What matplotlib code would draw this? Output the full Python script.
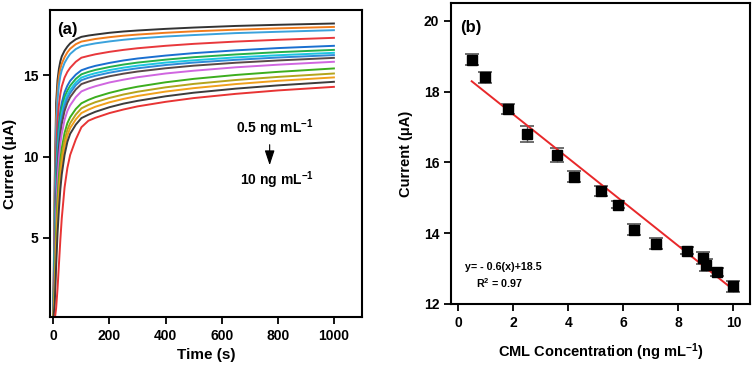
import matplotlib
matplotlib.use("Agg")
import matplotlib.pyplot as plt
import numpy as np

plt.rcParams['font.family'] = ['Liberation Sans', 'DejaVu Sans']
plt.rcParams['font.weight'] = 'bold'
plt.rcParams['mathtext.fontset'] = 'custom'
plt.rcParams['mathtext.rm'] = 'Liberation Sans:bold'
plt.rcParams['mathtext.bf'] = 'Liberation Sans:bold'
plt.rcParams['mathtext.it'] = 'Liberation Sans:bold'
plt.rcParams['mathtext.default'] = 'bf'

# (a) chronoamperometric curves (0.5 -> 10 ng/mL, top to bottom)
time_s = [0, 5, 10, 15, 20, 25, 30, 40, 50, 60, 80,
          100, 125, 150, 200, 250, 300, 400, 500, 650, 800, 1000]
curves = [
    [0.3, 8.5, 13.3, 14.7, 15.4, 15.85, 16.15, 16.5, 16.75, 16.95, 17.2,
     17.35, 17.43, 17.49, 17.60, 17.68, 17.74, 17.84, 17.92, 18.02, 18.09, 18.17],
    [0.3, 7.5, 12.4, 14.1, 14.95, 15.4, 15.7, 16.1, 16.4, 16.62, 16.9,
     17.06, 17.14, 17.22, 17.33, 17.42, 17.49, 17.60, 17.69, 17.79, 17.87, 17.96],
    [0.3, 6.5, 11.6, 13.5, 14.4, 14.95, 15.3, 15.75, 16.05, 16.3, 16.6,
     16.78, 16.87, 16.95, 17.07, 17.17, 17.25, 17.37, 17.46, 17.58, 17.66, 17.76],
    [0.2, 5.5, 10.3, 12.2, 13.2, 13.85, 14.3, 14.85, 15.2, 15.45, 15.82,
     16.07, 16.18, 16.28, 16.43, 16.55, 16.65, 16.80, 16.92, 17.06, 17.17, 17.29],
    [0.2, 4.8, 9.2, 11.0, 12.1, 12.8, 13.3, 13.95, 14.35, 14.65, 15.03,
     15.30, 15.45, 15.57, 15.75, 15.90, 16.02, 16.20, 16.35, 16.52, 16.66, 16.80],
    [0.2, 4.4, 8.7, 10.6, 11.7, 12.45, 12.95, 13.65, 14.05, 14.35, 14.77,
     15.05, 15.20, 15.32, 15.50, 15.65, 15.77, 15.95, 16.10, 16.27, 16.41, 16.55],
    [0.2, 4.0, 8.2, 10.2, 11.35, 12.1, 12.65, 13.35, 13.8, 14.1, 14.55,
     14.85, 15.00, 15.12, 15.31, 15.46, 15.58, 15.77, 15.91, 16.09, 16.22, 16.37],
    [0.2, 3.6, 7.7, 9.8, 11.0, 11.8, 12.35, 13.1, 13.58, 13.9, 14.38,
     14.69, 14.84, 14.96, 15.15, 15.30, 15.42, 15.62, 15.77, 15.94, 16.08, 16.23],
    [0.2, 3.3, 7.2, 9.3, 10.6, 11.4, 12.0, 12.8, 13.3, 13.65, 14.12,
     14.45, 14.60, 14.73, 14.93, 15.09, 15.22, 15.42, 15.58, 15.76, 15.90, 16.06],
    [0.1, 2.8, 6.5, 8.6, 9.9, 10.8, 11.4, 12.25, 12.8, 13.15, 13.65,
     14.00, 14.18, 14.32, 14.55, 14.72, 14.87, 15.10, 15.27, 15.48, 15.64, 15.82],
    [0.1, 2.2, 5.5, 7.5, 8.8, 9.8, 10.5, 11.45, 12.05, 12.42, 12.92,
     13.27, 13.48, 13.65, 13.91, 14.12, 14.29, 14.56, 14.77, 15.01, 15.20, 15.41],
    [0.1, 1.8, 4.8, 6.8, 8.2, 9.3, 10.0, 11.0, 11.65, 12.05, 12.58,
     12.96, 13.17, 13.34, 13.60, 13.81, 13.98, 14.25, 14.46, 14.70, 14.89, 15.10],
    [0.0, 1.4, 4.1, 6.1, 7.6, 8.7, 9.5, 10.6, 11.3, 11.75, 12.28,
     12.67, 12.88, 13.06, 13.33, 13.54, 13.72, 13.99, 14.20, 14.45, 14.65, 14.86],
    [0.0, 1.0, 3.3, 5.3, 6.8, 8.0, 8.9, 10.1, 10.9, 11.4, 11.96,
     12.36, 12.57, 12.75, 13.03, 13.25, 13.42, 13.70, 13.92, 14.17, 14.37, 14.59],
    [0.0, 0.0, 0.7, 1.9, 3.4, 4.9, 6.2, 8.1, 9.3, 10.1, 11.05,
     11.80, 12.20, 12.38, 12.67, 12.89, 13.08, 13.36, 13.59, 13.85, 14.06, 14.28],
]
curve_colors = ['#333333', '#f07c1c', '#3aa2dc', '#e8383c', '#1a6fd0', '#25b04a',
                '#1cc6e0', '#2f8ad8', '#5a4848', '#d066e0', '#3cae1e', '#b4a41c',
                '#f0a01c', '#3c3c3c', '#e83434']

# (b) calibration points
conc = [0.5, 1.0, 1.8, 2.5, 3.6, 4.2, 5.2, 5.8, 6.4, 7.2, 8.3, 8.9, 9.0, 9.4, 10.0]
current = [18.9, 18.4, 17.5, 16.8, 16.2, 15.6, 15.2, 14.8, 14.1, 13.7, 13.5, 13.3, 13.1, 12.9, 12.5]
current_err = [0.16, 0.16, 0.14, 0.22, 0.2, 0.16, 0.14, 0.1, 0.16, 0.16, 0.1, 0.16, 0.16, 0.12, 0.15]
fit_slope, fit_icpt = -0.62, 18.6

fig = plt.figure(figsize=(7.56, 3.71), dpi=100)
ax1 = fig.add_axes([0.0661, 0.1456, 0.4127, 0.8275])
ax2 = fig.add_axes([0.5966, 0.1806, 0.3955, 0.8113])

for ax in (ax1, ax2):
    for sp in ax.spines.values():
        sp.set_linewidth(1.5)
    ax.tick_params(width=1.3, length=5, labelsize=10)

# panel (a)
for vals, c in zip(curves, curve_colors):
    ax1.plot(time_s, vals, color=c, lw=1.4)
ax1.set_xlim(-12, 1100)
ax1.set_ylim(0.15, 19)
ax1.set_xticks([0, 200, 400, 600, 800, 1000])
ax1.set_yticks([5, 10, 15])
ax1.set_xlabel('Time (s)', fontsize=11, fontweight='bold', labelpad=4)
ax1.set_ylabel('Current (μA)', fontsize=11, fontweight='bold', labelpad=4)
ax1.text(0.022, 0.935, '(a)', transform=ax1.transAxes, fontsize=12,
         fontweight='bold', va='center', ha='left')
ax1.text(789, 11.75, r'0.5 ng mL$^{-1}$', fontsize=10, fontweight='bold',
         ha='center', va='center')
ax1.text(796, 8.55, r'10 ng mL$^{-1}$', fontsize=10, fontweight='bold',
         ha='center', va='center')
ax1.annotate('', xy=(771, 9.3), xytext=(771, 10.9),
             arrowprops=dict(arrowstyle='-|>,head_length=0.9,head_width=0.3',
                             color='black', lw=0.8))

# panel (b)
ax2.errorbar(conc, current, yerr=current_err, fmt='s', color='black',
             ms=7, ecolor='#555555', elinewidth=1, capsize=5, capthick=1.2)
xfit = np.array([conc[0], conc[-1]])
ax2.plot(xfit, fit_slope * xfit + fit_icpt, color='#e8282a', lw=1.4)
ax2.set_xlim(-0.25, 10.6)
ax2.set_ylim(12, 20.5)
ax2.set_xticks([0, 2, 4, 6, 8, 10])
ax2.set_yticks([12, 14, 16, 18, 20])
ax2.set_xlabel(r'CML Concentration (ng mL$^{-1}$)', fontsize=10.5,
               fontweight='bold', labelpad=8)
ax2.set_ylabel('Current (μA)', fontsize=10.5, fontweight='bold', labelpad=8)
ax2.text(0.03, 0.92, '(b)', transform=ax2.transAxes, fontsize=12,
         fontweight='bold', va='center', ha='left')
ax2.text(0.25, 13.05, 'y= - 0.6(x)+18.5', fontsize=7.7, fontweight='bold',
         ha='left', va='center')
ax2.text(0.65, 12.6, r'R$^{2}$ = 0.97', fontsize=7.7, fontweight='bold',
         ha='left', va='center')

fig.savefig('out.png', dpi=100)
